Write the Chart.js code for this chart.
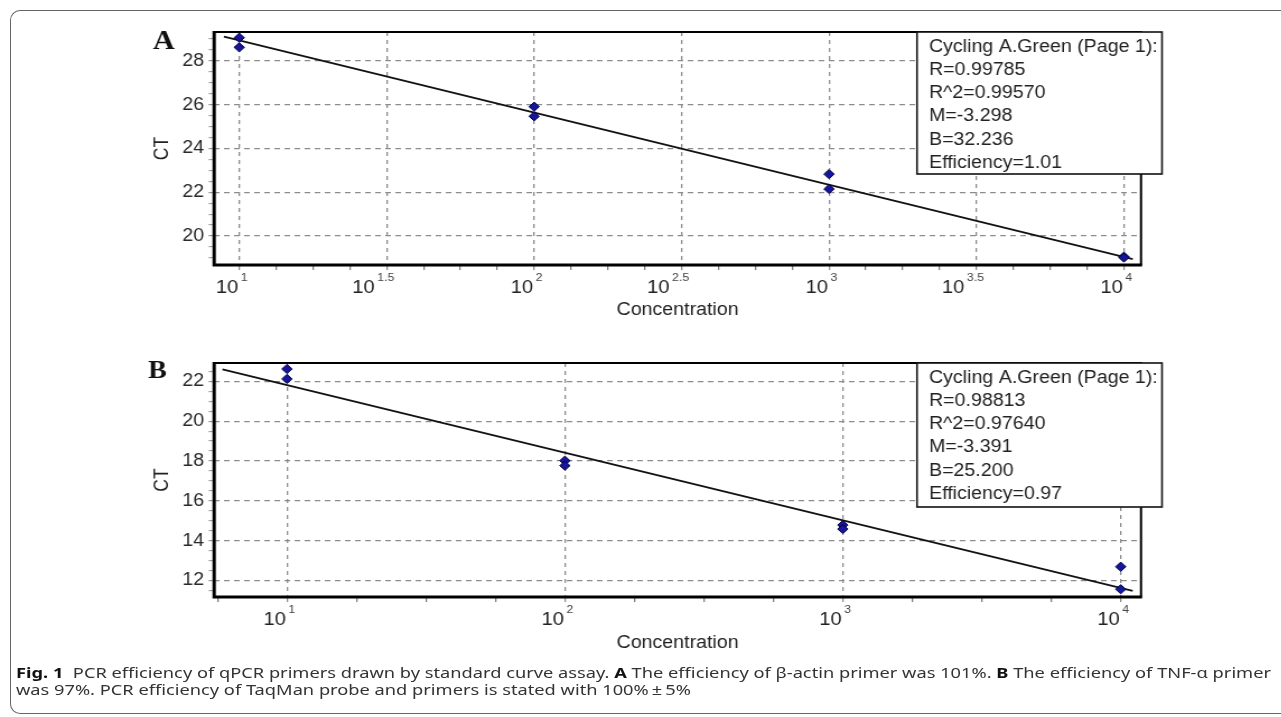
<!DOCTYPE html>
<html><head><meta charset="utf-8">
<script src="https://cdn.jsdelivr.net/npm/chart.js@4.4.0/dist/chart.umd.min.js"></script>
<style>
html,body{margin:0;padding:0;background:#fff;width:1281px;height:717px;overflow:hidden;}
#frame{position:absolute;left:10px;top:10px;width:1400px;height:704px;border:1px solid #666;border-right:none;border-radius:10px 0 0 10px;box-sizing:border-box;}
.wrap{position:absolute;left:0;width:1144px;height:335px;transform:scaleX(1.12);transform-origin:0 0;}
#wa{top:0}
#wb{top:335px}
.cap{position:absolute;left:16px;font-family:'Noto Sans','Open Sans',sans-serif;font-size:14.5px;line-height:17px;color:#333;white-space:nowrap;transform-origin:0 0;}
.cap b{color:#111;}
</style></head><body>
<div id="frame"></div>
<div class="wrap" id="wa"><canvas id="ca" width="1144" height="335"></canvas></div>
<div class="wrap" id="wb"><canvas id="cb" width="1144" height="335"></canvas></div>
<div class="cap" id="cap1"><b>Fig. 1</b>&nbsp;&nbsp;PCR efficiency of qPCR primers drawn by standard curve assay. <b>A</b> The efficiency of β-actin primer was 101%. <b>B</b> The efficiency of TNF-α primer</div>
<div class="cap" id="cap2">was 97%. PCR efficiency of TaqMan probe and primers is stated with 100%&thinsp;±&thinsp;5%</div>
<script>
// ---- data ----
const concentration = [10, 100, 1000, 10000];
const ctA1 = [29.06, 25.91, 22.83, 19.06];
const ctA2 = [28.62, 25.47, 22.15, 19.02];
const fitAx = [8.87, 10715];
const fitAy = [29.11, 18.95];
const ctB1 = [22.62, 18.02, 14.79, 12.70];
const ctB2 = [22.12, 17.77, 14.59, 11.57];
const fitBx = [5.86, 11042];
const fitBy = [22.60, 11.49];
const expA = ['1', '1.5', '2', '2.5', '3', '3.5', '4'];
const expB = ['1', '2', '3', '4'];
const yTicksA = [20, 22, 24, 26, 28];
const yTicksB = [12, 14, 16, 18, 20, 22];
const legendA = ['Cycling A.Green (Page 1):', 'R=0.99785', 'R^2=0.99570', 'M=-3.298', 'B=32.236', 'Efficiency=1.01'];
const legendB = ['Cycling A.Green (Page 1):', 'R=0.98813', 'R^2=0.97640', 'M=-3.391', 'B=25.200', 'Efficiency=0.97'];

const S = 1.12;
const FONT = "'Liberation Sans', Arial, sans-serif";
Chart.defaults.font.family = FONT;

function makeChart(id, p) {
  const isMajorX = v => { const e = Math.log10(v); return p.exps.some(s => Math.abs(parseFloat(s) - e) < 1e-6); };
  const isMajorY = v => p.yTicks.some(t => Math.abs(t - v) < 1e-6);
  const lmin = Math.log10(p.xMin), lmax = Math.log10(p.xMax);
  const xt = [];
  for (let e = Math.ceil(lmin / p.minorStep - 1e-9) * p.minorStep; e <= lmax + 1e-9; e += p.minorStep) xt.push(Math.pow(10, e));
  const yt = [];
  for (let v = Math.ceil(p.yMin * 2) / 2; v <= p.yMax + 1e-9; v += 0.5) yt.push(v);

  const pts = [];
  concentration.forEach((c, i) => { pts.push({x: c, y: p.r1[i]}); pts.push({x: c, y: p.r2[i]}); });
  const fit = p.fx.map((x, i) => ({x: x, y: p.fy[i]}));

  const deco = {
    id: 'deco' + id,
    beforeDatasetsDraw(chart) {
      const {ctx, chartArea: a} = chart;
      ctx.save();
      ctx.strokeStyle = '#000';
      ctx.lineWidth = 2;
      ctx.beginPath();
      ctx.moveTo(a.left, a.top); ctx.lineTo(a.right, a.top); ctx.lineTo(a.right, a.bottom);
      ctx.stroke();
      ctx.lineWidth = 3;
      ctx.beginPath();
      ctx.moveTo(a.left, a.top - 1); ctx.lineTo(a.left, a.bottom); ctx.lineTo(a.right + 1, a.bottom);
      ctx.stroke();
      ctx.restore();
    },
    afterDatasetsDraw(chart) {
      const {ctx, chartArea: a} = chart;
      const xs = chart.scales.x;
      ctx.save();
      // legend box
      const bx = 917 / S, bw = 245 / S, by = a.top, bh = p.legendH;
      ctx.fillStyle = '#fff';
      ctx.fillRect(bx, by, bw, bh);
      ctx.strokeStyle = '#111';
      ctx.lineWidth = 1.6;
      ctx.strokeRect(bx, by, bw, bh);
      ctx.fillStyle = '#222';
      ctx.font = '17.5px ' + FONT;
      ctx.textAlign = 'left';
      ctx.textBaseline = 'middle';
      p.legend.forEach((t, i) => ctx.fillText(t, 929 / S, by + 15 + 23.2 * i));
      // x tick labels 10^e
      p.exps.forEach(e => {
        const px = xs.getPixelForValue(Math.pow(10, parseFloat(e)));
        const frac = e.indexOf('.') >= 0;
        const right = px - (frac ? 12 : 1) / S;
        ctx.font = '18px ' + FONT;
        ctx.fillStyle = '#222';
        ctx.textAlign = 'right';
        ctx.textBaseline = 'middle';
        ctx.fillText('10', right, a.bottom + 23.5);
        ctx.font = '11px ' + FONT;
        ctx.textAlign = 'left';
        ctx.fillStyle = '#444';
        ctx.fillText(e, right + 2.5 / S, a.bottom + 12.5);
      });
      // panel letter
      ctx.font = 'bold ' + p.letterSize + "px 'Liberation Serif', 'Times New Roman', serif";
      ctx.fillStyle = '#111';
      ctx.textAlign = 'left';
      ctx.textBaseline = 'alphabetic';
      ctx.fillText(p.letter, p.letterX / S, p.letterY);
      ctx.restore();
    }
  };

  return new Chart(document.getElementById(id), {
    type: 'scatter',
    data: {
      datasets: [
        {data: fit, showLine: true, borderColor: '#111', borderWidth: 1.8, pointRadius: 0, pointHoverRadius: 0, order: 2},
        {data: pts, pointStyle: 'rectRot', pointRadius: 4.6, backgroundColor: '#15159e', borderColor: '#00003a', borderWidth: 1, order: 1}
      ]
    },
    options: {
      responsive: false, animation: false, devicePixelRatio: 1,
      layout: {padding: {left: 132, right: 1144 - 1141 / S, top: p.top, bottom: 0}},
      plugins: {legend: {display: false}, tooltip: {enabled: false}},
      scales: {
        x: {
          type: 'logarithmic', min: p.xMin, max: p.xMax,
          afterBuildTicks: s => { s.ticks = xt.map(v => ({value: v})); },
          afterFit: s => { s.height = p.xH; },
          ticks: {display: false},
          grid: {
            color: c => (c.tick && isMajorX(c.tick.value)) ? '#8c8c8c' : 'rgba(0,0,0,0)',
            lineWidth: 1.3, drawTicks: true, tickLength: 5,
            tickColor: c => (c.tick && isMajorX(c.tick.value)) ? '#888' : '#777', tickWidth: 1.2
          },
          border: {display: false, dash: [4, 4]},
          title: {display: true, text: 'Concentration', color: '#222', font: {size: 17.5}, padding: {top: 0, bottom: p.titlePad}}
        },
        y: {
          min: p.yMin, max: p.yMax,
          afterBuildTicks: s => { s.ticks = yt.map(v => ({value: v})); },
          afterFit: s => { s.width = 1 + 190.2 - 132 ; },
          ticks: {autoSkip: false, padding: 4, color: '#2a2a2a', font: {size: 17.5},
            callback: v => isMajorY(v) ? String(v) : ''},
          grid: {
            color: c => (c.tick && isMajorY(c.tick.value)) ? '#8c8c8c' : 'rgba(0,0,0,0)',
            lineWidth: 1.3, drawTicks: true, tickLength: 5,
            tickColor: c => (c.tick && isMajorY(c.tick.value)) ? '#888' : '#999', tickWidth: 1
          },
          border: {display: false, dash: [5, 4]},
          title: {display: true, text: 'CT', color: '#222', font: {size: 17.5}, padding: {top: 3, bottom: 0}}
        }
      }
    },
    plugins: [deco]
  });
}

makeChart('ca', {
  r1: ctA1, r2: ctA2, fx: fitAx, fy: fitAy, exps: expA, yTicks: yTicksA,
  xMin: 8.22, xMax: 11429, yMin: 18.68, yMax: 29.32, minorStep: 0.125,
  top: 32, xH: 70, titlePad: 14.5, legend: legendA, legendH: 142,
  letter: 'A', letterSize: 27, letterX: 153, letterY: 49
});
makeChart('cb', {
  r1: ctB1, r2: ctB2, fx: fitBx, fy: fitBy, exps: expB, yTicks: yTicksB,
  xMin: 5.47, xMax: 11830, yMin: 11.18, yMax: 22.92, minorStep: 0.25,
  top: 28, xH: 73, titlePad: 16.5, legend: legendB, legendH: 144,
  letter: 'B', letterSize: 25, letterX: 148, letterY: 43
});

// caption fitting
(function () {
  const c1 = document.getElementById('cap1'), c2 = document.getElementById('cap2');
  c1.style.top = '664px'; c2.style.top = '681px';
  const w = c1.getBoundingClientRect().width;
  const k = 1255 / w;
  c1.style.transform = 'scaleX(' + k + ')';
  c2.style.transform = 'scaleX(' + k + ')';
})();
</script>
</body></html>
